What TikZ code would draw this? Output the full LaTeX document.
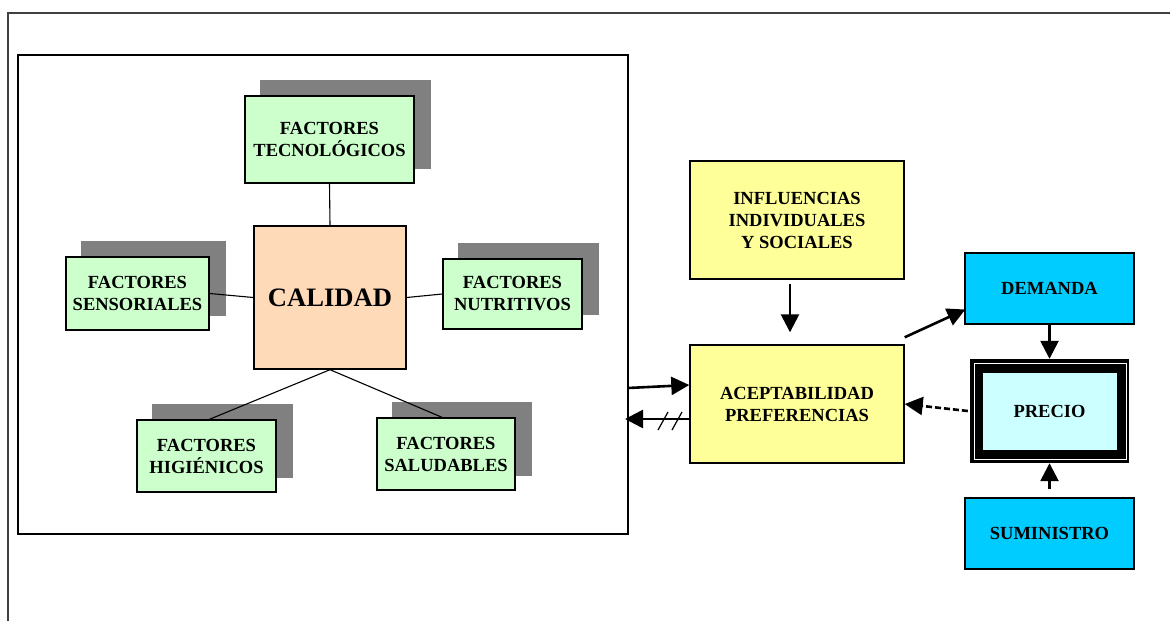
\documentclass[tikz,border=0pt]{standalone}
\usepackage{fontspec}
\setmainfont{Liberation Serif}
\usetikzlibrary{calc,arrows.meta,backgrounds}
\definecolor{boxgreen}{HTML}{CCFFCC}
\definecolor{peach}{HTML}{FFDAB9}
\definecolor{pyellow}{HTML}{FFFF99}
\definecolor{dcyan}{HTML}{00CCFF}
\definecolor{lcyan}{HTML}{CCFFFF}
\definecolor{shad}{HTML}{808080}
\definecolor{frame}{HTML}{404040}
\tikzset{
  box/.style={draw=black, line width=1.4pt, inner sep=2pt, align=center,
    font=\fontsize{18.5}{22}\selectfont\bfseries},
  factor/.style={box, fill=boxgreen},
  ybox/.style={box, fill=pyellow},
  cbox/.style={box, fill=dcyan},
  link/.style={line width=1.1pt},
  tipA/.style={-{Triangle[length=18pt,width=18pt]}},
  arr/.style={line width=2.6pt, tipA},
  shadowbox/.style={fill=shad}
}
\begin{document}
\begin{tikzpicture}[x=1pt,y=-1pt]
\useasboundingbox (0,0) rectangle (1170,621);
% outer frame
\draw[frame, line width=1.3pt] (8,621) -- (8,13) -- (1170,13);
% inner box
\draw[black, line width=1.5pt] (18,55) rectangle (628,534);
\coordinate (inR1) at (628,388);
\coordinate (inR2) at (625,419);

% factor nodes
\node[factor, minimum width=169pt, minimum height=87pt] (tec) at (329.5,139.5) {FACTORES\\TECNOLÓGICOS};
\node[factor, minimum width=143pt, minimum height=73pt] (sens) at (137.5,293.5) {FACTORES\\SENSORIALES};
\node[box, fill=peach, minimum width=152pt, minimum height=143pt, font=\fontsize{26.6}{30}\selectfont\bfseries] (cal) at (330,297.5) {CALIDAD};
\node[factor, minimum width=139pt, minimum height=70pt] (nut) at (512.5,294) {FACTORES\\NUTRITIVOS};
\node[factor, minimum width=139pt, minimum height=72pt] (hig) at (206.5,456) {FACTORES\\HIGIÉNICOS};
\node[factor, minimum width=138pt, minimum height=72pt] (sal) at (446,454) {FACTORES\\SALUDABLES};

\begin{scope}[on background layer]
\foreach \n in {tec,sens,nut,hig,sal}{
  \fill[shadowbox] ($(\n.south west)+(16,-15)$) rectangle ($(\n.north east)+(16,-15)$);
}
\end{scope}

% links
\draw[link] (tec.south) -- (cal.north);
\draw[link] (sens.east) -- (cal.west);
\draw[link] (cal.east) -- (nut.west);
\draw[link] (cal.south) -- ($(hig.north)+(3,0)$);
\draw[link] (cal.south) -- ($(sal.north)+(-4,0)$);

% right side
\node[ybox, minimum width=214pt, minimum height=118pt] (infl) at (797,220) {INFLUENCIAS\\INDIVIDUALES\\Y SOCIALES};
\node[ybox, minimum width=214pt, minimum height=118pt] (acep) at (797,404) {ACEPTABILIDAD\\PREFERENCIAS};
\node[cbox, minimum width=169pt, minimum height=71pt] (dem) at (1049.5,288.5) {DEMANDA};
\node[cbox, minimum width=169pt, minimum height=71pt] (sum) at (1049.5,533.5) {SUMINISTRO};

% precio
\node[fill=black, minimum width=159pt, minimum height=104pt, inner sep=0pt] (prec) at (1049.5,411) {};
\draw[white, line width=0.8pt] (974,363) rectangle (1126,459);
\node[box, fill=lcyan, line width=0.6pt, minimum width=135pt, minimum height=78pt] (precin) at (1049.5,411) {PRECIO};

% arrows
\draw[arr] ($(infl.south)+(-7,4)$) -- ($(acep.north)+(-7,-12)$);
\draw[arr] (inR1) -- ($(acep.west)+(0,-19)$);
\draw[arr] ($(acep.west)+(0,15)$) -- (inR2);
\draw[line width=1.2pt] (658,430) -- (668,412);
\draw[line width=1.2pt] (672,430) -- (682,412);
\draw[arr] ($(acep.north east)+(0,-7)$) -- ($(dem.west)+(1,21)$);
\draw[arr] (dem.south) -- (prec.north);
\draw[arr] ($(sum.north)+(0,-8)$) -- (prec.south);
\draw[line width=2.6pt, dash pattern=on 6pt off 3pt, tipA] ($(prec.west)+(-2,0)$) -- (acep.east);
\end{tikzpicture}
\end{document}
